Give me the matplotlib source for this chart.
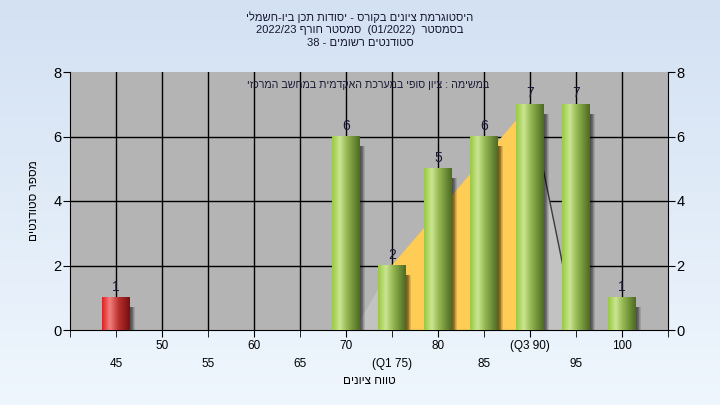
import re
import numpy as np
import matplotlib.pyplot as plt
from matplotlib.colors import LinearSegmentedColormap
from matplotlib.patches import Rectangle, Polygon

plt.rcParams['font.family'] = ['Liberation Sans', 'DejaVu Sans']

# Data
grades = [45, 70, 75, 80, 85, 90, 95, 100]
counts = [1, 6, 2, 5, 6, 7, 7, 1]
fail_limit = 55          # bars below this grade are drawn red
q1, q3 = 75, 90
spread_x = [70.9, 75, 90, 95]
spread_y = [0, 2, 7, 0]

row1_ticks = [50, 60, 70, 80, 90, 100]
row1_labels = ['50', '60', '70', '80', '(Q3 90)', '100']
row2_ticks = [40, 45, 55, 65, 75, 85, 95, 105]
row2_labels = ['', '45', '55', '65', '(Q1 75)', '85', '95', '']

title_lines = ['היסטוגרמת ציונים בקורס - יסודות תכן ביו-חשמלי',
               'בסמסטר  (01/2022)  סמסטר חורף 2022/23',
               'סטודנטים רשומים - 38']
subtitle = 'במשימה : ציון סופי במערכת האקדמית במחשב המרכזי'
x_title = 'טווח ציונים'
y_title = 'מספר סטודנטים'


def rtl(s):
    # crude bidi: reverse the Hebrew, keep number runs in order
    parts = re.split(r'([0-9][0-9/.]*)', s)
    out = []
    for p in reversed(parts):
        if re.fullmatch(r'[0-9][0-9/.]*', p):
            out.append(p)
        else:
            out.append(p[::-1].translate(str.maketrans('()', ')(')))
    return ''.join(out)


fig = plt.figure(figsize=(7.2, 4.05), dpi=100)

# page background gradient
bg = fig.add_axes([0, 0, 1, 1], zorder=-10)
bg_cmap = LinearSegmentedColormap.from_list('bg', ['#d3e1f3', '#eff6fd'])
bg.imshow(np.linspace(0, 1, 256).reshape(-1, 1), cmap=bg_cmap, aspect='auto',
          extent=(0, 1, 0, 1))
bg.axis('off')

ax = fig.add_axes([70 / 720, 75 / 405, 598 / 720, 258 / 405])
ax.set_facecolor('#b4b4b4')

# grid (black, under everything)
for g in range(45, 101, 5):
    ax.axvline(g, color='black', lw=1, zorder=1)
for g in [2, 4, 6]:
    ax.axhline(g, color='black', lw=1, zorder=1)

# spread area and the quartile band
ax.add_patch(Polygon(list(zip(spread_x, spread_y)), closed=True,
                     facecolor='#c2c2c2', edgecolor='none', zorder=2))
y_q1 = np.interp(q1, spread_x, spread_y)
y_q3 = np.interp(q3, spread_x, spread_y)
ax.add_patch(Polygon([(q1, 0), (q1, y_q1), (q3, y_q3), (q3, 0)], closed=True,
                     facecolor='#ffcc55', edgecolor='none', zorder=2))
ax.plot(spread_x[2:], spread_y[2:], color='#3a3a3a', lw=1, zorder=2)

green = LinearSegmentedColormap.from_list(
    'g', [(0, '#98c93e'), (0.28, '#cbe692'), (0.55, '#93b550'), (1, '#4c6a20')])
red = LinearSegmentedColormap.from_list(
    'r', [(0, '#e41c1c'), (0.28, '#f28080'), (0.6, '#bb2e2e'), (1, '#761010')])
grad = np.linspace(0, 1, 256).reshape(1, -1)
width = 3.0

for x, c in zip(grades, counts):
    x0, x1 = x - width / 2, x + width / 2
    # soft shadow on the right
    for k in range(1, 7):
        ax.add_patch(Rectangle((x1, 0), k * 0.1, max(c - 0.3, 0),
                               facecolor='black', alpha=0.12,
                               edgecolor='none', zorder=3))
    cmap = red if x < fail_limit else green
    ax.imshow(grad, cmap=cmap, extent=(x0, x1, 0, c), aspect='auto',
              interpolation='bicubic', zorder=4)
    ax.text(x, c + 0.12, str(c), ha='center', va='bottom', fontsize=10,
            color='#1a1a38', zorder=5)

ax.set_xlim(40, 105)
ax.set_ylim(0, 8)
ax.set_yticks([0, 2, 4, 6, 8])
ax.tick_params(axis='y', which='both', left=True, right=True,
               labelleft=True, labelright=True, length=5, pad=1,
               labelsize=10.5, color='black')

ax.set_xticks(row1_ticks)
ax.set_xticklabels(row1_labels)
ax.set_xticks(row2_ticks, minor=True)
ax.set_xticklabels(row2_labels, minor=True)
ax.tick_params(axis='x', which='major', length=5, pad=2.5, labelsize=8.5)
ax.tick_params(axis='x', which='minor', length=5, pad=15.5, labelsize=8.5)

for s in ['left', 'right', 'bottom']:
    ax.spines[s].set_color('black')
ax.spines['top'].set_visible(False)

ax.text(0.498, 0.95, rtl(subtitle), transform=ax.transAxes, ha='center',
        va='center', fontsize=7.7, color='#1a1a38', zorder=6)
ax.text(0.5, -0.198, rtl(x_title), transform=ax.transAxes, ha='center',
        va='center', fontsize=8.5)
ax.text(-0.060, 0.5, rtl(y_title), transform=ax.transAxes, ha='center',
        va='center', rotation=90, fontsize=8.5)

for i, line in enumerate(title_lines):
    fig.text(0.5, 1 - (17 + 13 * i) / 405, rtl(line), ha='center',
             va='center', fontsize=8, color='#151530')

fig.savefig('out.png', dpi=100)
